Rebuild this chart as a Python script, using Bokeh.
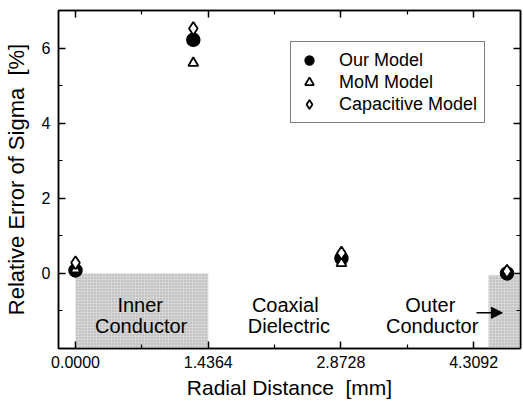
from bokeh.plotting import figure
from bokeh.models import (LinearAxis, FixedTicker, PrintfTickFormatter, Label,
                          Arrow, NormalHead, Legend, LegendItem)
from bokeh.embed import file_html
from bokeh.resources import INLINE

# ---- data ----
radial_mm = [0.0, 1.275, 2.878, 4.67]
our_model = [0.08, 6.22, 0.40, 0.0]
mom_model = [0.10, 5.60, 0.27, 0.03]
capacitive_model = [0.28, 6.52, 0.54, 0.06]

x_ticks = [0.0, 1.4364, 2.8728, 4.3092]
x_minor = [0.7182, 2.1546, 3.5910]
y_ticks = [0, 2, 4, 6]
y_minor = [-1, 1, 3, 5]

region_left = [0.0, 4.47]
region_right = [1.4364, 4.9]
region_bottom = [-2.0, -2.0]
region_top = [0.0, -0.05]

FONT = "Liberation Sans"

p = figure(width=523, height=403, x_range=(-0.184, 4.816), y_range=(-2, 7),
           output_backend="svg", toolbar_location=None,
           min_border_left=58, min_border_right=3, min_border_top=10, min_border_bottom=55,
           x_axis_label="Radial Distance \u00a0[mm]",
           y_axis_label="Relative Error of Sigma \u00a0[%]")
p.grid.visible = False
p.outline_line_color = "black"
p.outline_line_width = 1.5
p.background_fill_color = "white"
p.border_fill_color = "white"

# shaded regions
p.quad(left=region_left, right=region_right, bottom=region_bottom, top=region_top,
       fill_color="#d6d6d6", line_color=None,
       hatch_pattern="dot", hatch_color="#9a9a9a", hatch_scale=3, hatch_weight=1, hatch_alpha=0.8)

def style_axis(ax, label=True):
    ax.axis_line_width = 1.5
    ax.major_tick_in = 7
    ax.major_tick_out = 0
    ax.minor_tick_in = 4
    ax.minor_tick_out = 0
    ax.major_tick_line_width = 1.5
    ax.minor_tick_line_width = 1.2
    if label:
        ax.major_label_text_font = FONT
        ax.major_label_text_font_size = "16px"
        ax.major_label_text_color = "black"
        ax.axis_label_text_font = FONT
        ax.axis_label_text_font_style = "normal"
        ax.axis_label_text_color = "black"
    else:
        ax.major_label_text_font_size = "1px"
        ax.major_label_text_color = None
        ax.major_label_standoff = 0

xa = p.xaxis[0]
xa.ticker = FixedTicker(ticks=x_ticks, minor_ticks=x_minor)
xa.formatter = PrintfTickFormatter(format="%.4f")
style_axis(xa)
xa.axis_label_text_font_size = "21px"
xa.major_label_standoff = 7
xa.axis_label_standoff = 5

ya = p.yaxis[0]
ya.ticker = FixedTicker(ticks=y_ticks, minor_ticks=y_minor)
style_axis(ya)
ya.axis_label_text_font_size = "22px"
ya.major_label_standoff = 8
ya.axis_label_standoff = 10

top = LinearAxis(ticker=FixedTicker(ticks=x_ticks, minor_ticks=x_minor))
style_axis(top, label=False)
p.add_layout(top, "above")
right = LinearAxis(ticker=FixedTicker(ticks=y_ticks, minor_ticks=y_minor))
style_axis(right, label=False)
p.add_layout(right, "right")

r1 = p.scatter(radial_mm, our_model, marker="circle", size=13, fill_color="black",
               line_color="black", line_width=1.5)
r2 = p.scatter(radial_mm, mom_model, marker="triangle", size=10, fill_color="white",
               line_color="black", line_width=1.8)
r3 = p.scatter(radial_mm, capacitive_model, marker="diamond", size=13, fill_color="white",
               line_color="black", line_width=1.8)

legend = Legend(items=[LegendItem(label="Our Model", renderers=[r1]),
                       LegendItem(label="MoM Model", renderers=[r2]),
                       LegendItem(label="Capacitive Model", renderers=[r3])],
                location=(232, 225), border_line_color="black", border_line_width=1.2,
                label_text_font=FONT, label_text_font_size="18px", label_text_color="black",
                glyph_width=22, glyph_height=22, label_height=19, spacing=-2, padding=7,
                label_standoff=19, margin=0, background_fill_alpha=1)
p.add_layout(legend)

for txt, x, y in [("Inner", 0.70, -0.85), ("Conductor", 0.71, -1.39),
                  ("Coaxial", 2.27, -0.85), ("Dielectric", 2.31, -1.39),
                  ("Outer", 3.84, -0.85), ("Conductor", 3.86, -1.39)]:
    p.add_layout(Label(x=x, y=y, text=txt, text_font=FONT, text_font_size="20px",
                       text_align="center", text_baseline="middle", text_color="black"))

p.add_layout(Arrow(end=NormalHead(size=11, fill_color="black", line_color="black"),
                   x_start=4.34, y_start=-1.05, x_end=4.62, y_end=-1.05,
                   line_color="black", line_width=1.5))

open("out.html", "w").write(file_html(p, INLINE))
